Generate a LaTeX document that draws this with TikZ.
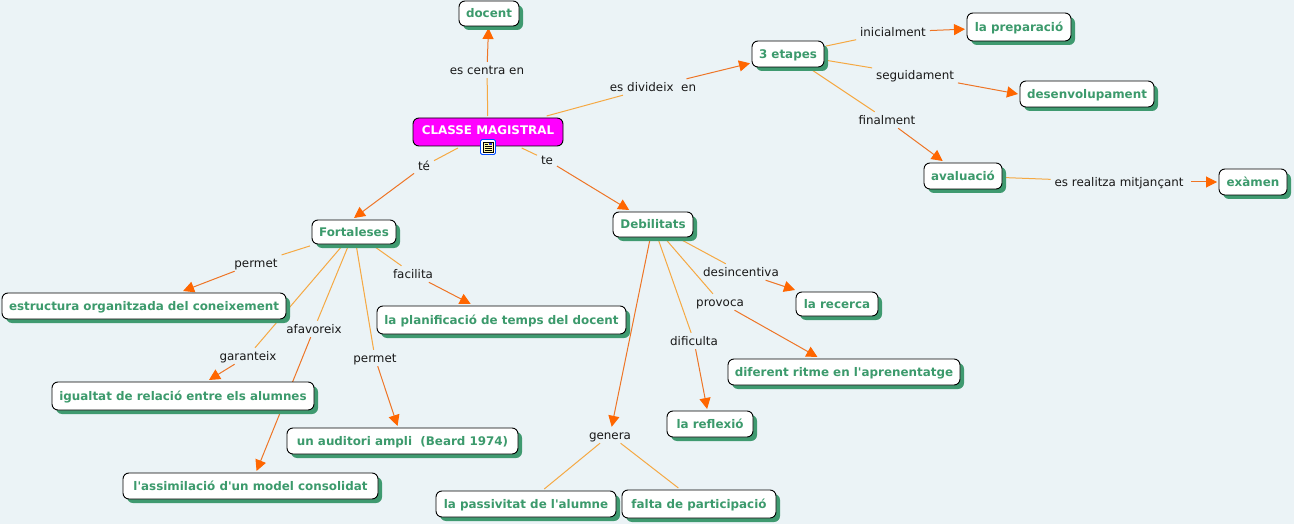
\documentclass[tikz,border=0pt]{standalone}
\usepackage{fontspec}
\setmainfont{DejaVu Sans}[Ligatures=TeXOff]
\usetikzlibrary{arrows.meta,shadows,backgrounds}
\definecolor{pagebg}{HTML}{EBF3F6}
\definecolor{greentxt}{HTML}{3C9A6C}
\definecolor{greenshadow}{HTML}{3F9A70}
\definecolor{rootfill}{HTML}{FF00FF}
\definecolor{linklight}{HTML}{F5A943}
\definecolor{linkdark}{HTML}{EE7526}
\definecolor{tipcol}{HTML}{FF6600}
\tikzset{
  x=1pt,y=-1pt,
  concept/.style={draw=black,line width=0.9pt,rounded corners=6pt,fill=white,text=greentxt,
    font=\fontsize{11.9}{13}\selectfont\bfseries,inner sep=0pt,outer sep=2pt,
    text height=11pt,text depth=2.4pt,
    general shadow={fill=greenshadow,shadow xshift=4pt,shadow yshift=-4pt}},
  root/.style={draw=black,line width=0.9pt,rounded corners=6pt,fill=rootfill,text=white,
    font=\fontsize{11.9}{13}\selectfont\bfseries,inner sep=0pt,outer sep=2pt,
    text height=11pt,text depth=2.4pt},
  lbl/.style={font=\fontsize{11.9}{13}\selectfont,text=black!90,inner xsep=3pt,inner ysep=0.5pt,outer sep=1pt,text height=11pt,text depth=2.4pt},
  linkA/.style={draw=linklight,line width=1pt},
  linkB/.style={draw=linkdark,line width=1pt,-{Triangle[length=11pt,width=11pt,color=tipcol]}},
}
\newcommand{\cnode}[6][concept]{\node[#1,minimum width=#4pt,minimum height=#5pt] (#2) at (#3) {#6};}
\newcommand{\conn}[3]{\begin{pgfonlayer}{background}\draw[linkA] (#1) -- (#2);\draw[linkB] (#2) -- (#3);\end{pgfonlayer}}
\newcommand{\plain}[2]{\begin{pgfonlayer}{background}\draw[linkA] (#1) -- (#2);\end{pgfonlayer}}
\begin{document}
\begin{tikzpicture}
\useasboundingbox (0,0) rectangle (1294,524);
\begin{pgfonlayer}{background}
\fill[pagebg] (0,0) rectangle (1294,524);
\end{pgfonlayer}
% concepts
\cnode[root]{classe}{488,132}{150}{28}{\raisebox{2pt}{CLASSE MAGISTRAL}}
\cnode{docent}{489,13.5}{60}{25}{docent}
\cnode{etapes}{788,54}{72}{26}{3 etapes}
\cnode{prep}{1019,27}{104}{28}{la preparació}
\cnode{desen}{1087,94}{134}{26}{desenvolupament}
\cnode{aval}{963,176}{78}{26}{avaluació}
\cnode{examen}{1253,182}{68}{26}{exàmen}
\cnode{fort}{354,232}{84}{24}{Fortaleses}
\cnode{debil}{653,224.5}{80}{25}{Debilitats}
\cnode{estr}{144,306}{284}{26}{estructura organitzada del coneixement}
\cnode{plan}{501.5,320}{249}{28}{la planificació de temps del docent}
\cnode{recerca}{837,304}{82}{24}{la recerca}
\cnode{igual}{183,396}{262}{28}{igualtat de relació entre els alumnes}
\cnode{ritme}{844,372}{232}{26}{diferent ritme en l'aprenentatge}
\cnode{audit}{402.5,441}{231}{26}{un auditori ampli\ \ (Beard 1974)}
\cnode{reflex}{710,424}{86}{26}{la reflexió\ }
\cnode{assim}{250.5,486}{255}{26}{l'assimilació d'un model consolidat\ }
\cnode{pass}{526,504}{180}{26}{la passivitat de l'alumne}
\cnode{falta}{699,504}{154}{28}{falta de participació}
% icon
\node[draw=blue!70!cyan,fill=white,rounded corners=1.5pt,line width=0.8pt,minimum size=15pt,inner sep=0pt] (icon) at (488,147) {};
\draw[black,line width=0.6pt,fill=yellow!35] (483,142) rectangle (493,152);
\foreach \yy in {146.5,148.5,150.5}{\draw[black,line width=0.5pt] (484.5,\yy) -- (491.5,\yy);}
\draw[black,line width=0.5pt] (484.5,144.5) -- (488,144.5);
\fill[blue!60!gray] (489,143) rectangle (492,145.5);
% labels
\node[lbl] (l1) at (487,70) {es centra en};
\node[lbl] (l2) at (653,87) {es divideix\ \ en};
\node[lbl] (l3) at (893,32) {inicialment};
\node[lbl] (l4) at (915,75) {seguidament};
\node[lbl] (l5) at (887,120) {finalment};
\node[lbl] (l6) at (1121,182) {es realitza mitjançant\ \ };
\node[lbl] (l7) at (424,166) {té};
\node[lbl] (l8) at (547,160) {te};
\node[lbl] (l9) at (256,263) {permet};
\node[lbl] (l10) at (413,274) {facilita};
\node[lbl] (l11) at (248,356) {garanteix};
\node[lbl] (l12) at (314,329) {afavoreix};
\node[lbl] (l13) at (375,358) {permet};
\node[lbl] (l14) at (741,272) {desincentiva};
\node[lbl] (l15) at (720,302) {provoca};
\node[lbl] (l16) at (694,341) {dificulta};
\node[lbl] (l17) at (610,435) {genera};
% connectors
\conn{classe}{l1}{docent}
\conn{classe}{l2}{etapes}
\conn{etapes}{l3}{prep}
\conn{etapes}{l4}{desen.west}
\conn{etapes}{l5}{aval}
\conn{aval}{l6}{examen}
\conn{classe}{l7}{fort.north}
\conn{classe}{l8}{debil}
\conn{fort}{l9}{estr}
\conn{fort}{l10}{plan}
\conn{fort}{l11}{igual}
\conn{fort}{l12}{assim}
\conn{fort}{l13}{audit}
\conn{debil}{l14}{recerca}
\conn{debil}{l15}{ritme}
\conn{debil}{l16}{reflex}
\begin{pgfonlayer}{background}\draw[linkB] (debil) -- (l17);\end{pgfonlayer}
\plain{l17}{pass}
\plain{l17}{falta}
\end{tikzpicture}
\end{document}
